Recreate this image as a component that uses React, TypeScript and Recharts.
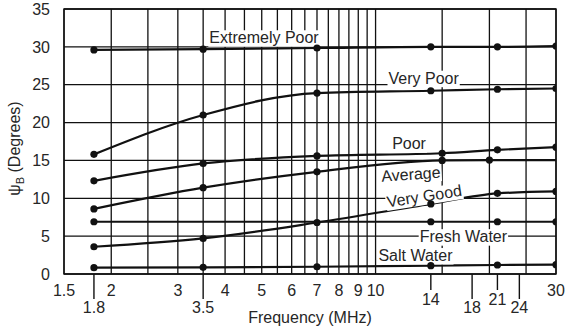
import React from 'react';
import { LineChart, Line, XAxis, YAxis, CartesianGrid, ReferenceArea } from 'recharts';

const FONT = '"Liberation Sans", Arial, Helvetica, sans-serif';
const INK = '#111';
const TEXT = '#262626';

// Brewster angle (degrees) against frequency (MHz) for each ground type
const EXTREMELY_POOR_F = [1.8, 3.5, 7, 14, 21, 30];
const EXTREMELY_POOR_DEG = [29.6, 29.7, 29.85, 30.0, 30.0, 30.1];
const VERY_POOR_F = [1.8, 3.5, 7, 14, 21, 30];
const VERY_POOR_DEG = [15.8, 21.0, 23.9, 24.2, 24.4, 24.5];
const POOR_F = [1.8, 3.5, 7, 15, 21, 30];
const POOR_DEG = [12.3, 14.6, 15.6, 15.95, 16.4, 16.75];
const AVERAGE_F = [1.8, 3.5, 7, 15, 20, 30];
const AVERAGE_DEG = [8.6, 11.4, 13.5, 15.0, 15.05, 15.05];
const VERY_GOOD_F = [1.8, 3.5, 7, 14, 21, 30];
const VERY_GOOD_DEG = [3.6, 4.7, 6.8, 9.25, 10.65, 10.9];
const FRESH_WATER_F = [1.8, 14, 21, 30];
const FRESH_WATER_DEG = [6.9, 6.9, 6.9, 6.9];
const SALT_WATER_F = [1.8, 3.5, 7, 14, 21, 30];
const SALT_WATER_DEG = [0.83, 0.88, 0.96, 1.1, 1.19, 1.23];

// Axis ticks
const GRID_F = [1.5, 2, 2.5, 3, 3.5, 4, 4.5, 5, 5.5, 6, 6.5, 7, 7.5, 8, 8.5, 9, 9.5, 10, 15, 20, 25, 30];
const LABELED_F = [1.5, 2, 3, 4, 5, 6, 7, 8, 9, 10, 30];
const BAND_F = [1.8, 3.5, 14, 18, 21, 24];
const LOW_BAND_F = [1.8, 3.5, 18, 24];
const DEG_TICKS = [0, 5, 10, 15, 20, 25, 30, 35];

const rows = (f: number[], deg: number[]) => f.map((v, i) => ({ f: v, deg: deg[i] }));

const SERIES = [
  { key: 'extremelyPoor', data: rows(EXTREMELY_POOR_F, EXTREMELY_POOR_DEG), marked: 6 },
  { key: 'veryPoor', data: rows(VERY_POOR_F, VERY_POOR_DEG), marked: 6 },
  { key: 'poor', data: rows(POOR_F, POOR_DEG), marked: 6 },
  { key: 'average', data: rows(AVERAGE_F, AVERAGE_DEG), marked: 5 },
  { key: 'veryGood', data: rows(VERY_GOOD_F, VERY_GOOD_DEG), marked: 6 },
  { key: 'freshWater', data: rows(FRESH_WATER_F, FRESH_WATER_DEG), marked: 4 },
  { key: 'saltWater', data: rows(SALT_WATER_F, SALT_WATER_DEG), marked: 6 },
];

// Curve captions, anchored in chart units (MHz, degrees)
const CAPTIONS = [
  { text: 'Extremely Poor', f: 5.07, deg: 31.2, angle: 0 },
  { text: 'Very Poor', f: 13.4, deg: 25.86, angle: 0 },
  { text: 'Poor', f: 12.26, deg: 17.2, angle: 0 },
  { text: 'Average', f: 12.4, deg: 13.2, angle: -4 },
  { text: 'Very Good', f: 13.45, deg: 10.3, angle: -9 },
  { text: 'Fresh Water', f: 17.07, deg: 4.93, angle: 0 },
  { text: 'Salt Water', f: 12.75, deg: 2.44, angle: 0 },
];

const measure = (text: string, size: number) => {
  try {
    const c = document.createElement('canvas').getContext('2d');
    if (c) {
      c.font = `${size}px "Liberation Sans", Arial, sans-serif`;
      return c.measureText(text).width;
    }
  } catch (e) {
    /* fall through */
  }
  return text.length * size * 0.5;
};

// Caption drawn on a white patch so the grid stops around the words
const captionDot = (p: any) => {
  const { cx, cy, index, payload } = p;
  if (cx == null || cy == null || !payload) return <g key={`c${index}`} />;
  const w = measure(payload.text, 16);
  return (
    <g key={`c${index}`} transform={`rotate(${payload.angle}, ${cx}, ${cy})`}>
      <rect x={cx - w / 2 - 1} y={cy - 7.5} width={w + 2} height={16.5} fill="#fff" />
      <text x={cx} y={cy} dy="0.355em" textAnchor="middle" fontSize={16} fontFamily={FONT} fill={TEXT}>
        {payload.text}
      </text>
    </g>
  );
};

const makeDot = (marked: number) => (p: any) => {
  const { cx, cy, index } = p;
  if (index >= marked || cx == null || cy == null) return <g key={`d${index}`} />;
  return <circle key={`d${index}`} cx={cx} cy={cy} r={3.6} fill={INK} />;
};

const GridTick = (props: any) => {
  const { x, y, payload } = props;
  if (!LABELED_F.includes(payload.value)) return <g />;
  return (
    <text x={x} y={y + 16.5} dy="0.355em" textAnchor="middle" fontSize={16} fontFamily={FONT} fill={TEXT}>
      {payload.value}
    </text>
  );
};

const BandTick = (props: any) => {
  const { x, payload } = props;
  const y = props.y - 1;
  const low = LOW_BAND_F.includes(payload.value);
  const len = low ? 25 : 16;
  const ty = low ? 33.5 : 25;
  return (
    <g>
      <line x1={x} y1={y} x2={x} y2={y + len} stroke={INK} strokeWidth={1.4} />
      <text x={x} y={y + ty} dy="0.355em" textAnchor="middle" fontSize={16} fontFamily={FONT} fill={TEXT}>
        {payload.value}
      </text>
    </g>
  );
};

const YTitle = (props: any) => {
  const { viewBox } = props;
  const cy = viewBox ? viewBox.y + viewBox.height / 2 + 7 : 148;
  const x = 19.5;
  return (
    <text
      x={x}
      y={cy}
      transform={`rotate(-90, ${x}, ${cy})`}
      textAnchor="middle"
      fontSize={16}
      fontFamily={FONT}
      fill={TEXT}
    >
      ψ
      <tspan fontSize={11} dy={4}>B</tspan>
      <tspan dy={-4}> (Degrees)</tspan>
    </text>
  );
};

export default function App() {
  return (
    <div style={{ position: 'absolute', left: 0, top: 0, width: 565, height: 333, background: '#fff' }}>
      <LineChart width={565} height={333} margin={{ top: 9, right: 9, bottom: 57, left: 63 }}>
        <CartesianGrid stroke={INK} strokeWidth={1.3} />
        <XAxis
          dataKey="f"
          type="number"
          scale="log"
          domain={[1.5, 30]}
          allowDataOverflow
          ticks={GRID_F}
          interval={0}
          height={1}
          tickSize={0}
          tickMargin={0}
          tickLine={false}
          axisLine={false}
          tick={<GridTick />}
          label={{
            value: 'Frequency (MHz)',
            position: 'bottom',
            offset: 37,
            fontSize: 16,
            fontFamily: FONT,
            fill: TEXT,
          }}
        />
        <XAxis
          xAxisId="band"
          dataKey="f"
          type="number"
          scale="log"
          domain={[1.5, 30]}
          allowDataOverflow
          ticks={BAND_F}
          interval={0}
          height={1}
          tickSize={0}
          tickMargin={0}
          tickLine={false}
          axisLine={false}
          tick={<BandTick />}
        />
        <YAxis
          type="number"
          domain={[0, 35]}
          ticks={DEG_TICKS}
          interval={0}
          width={1}
          tickSize={0}
          tickMargin={14}
          tickLine={false}
          axisLine={false}
          tick={{ fontSize: 16, fontFamily: FONT, fill: TEXT }}
          label={<YTitle />}
        />
        <ReferenceArea x1={1.5} x2={30} y1={0} y2={35} fill="none" stroke={INK} strokeWidth={1.4} fillOpacity={0} />
        <Line
          key="captions"
          data={CAPTIONS}
          dataKey="deg"
          stroke="none"
          dot={captionDot}
          activeDot={false}
          legendType="none"
          isAnimationActive={false}
        />
        {SERIES.map((s) => (
          <Line
            key={s.key}
            data={s.data}
            dataKey="deg"
            type="monotone"
            stroke={INK}
            strokeWidth={2.2}
            dot={makeDot(s.marked)}
            activeDot={false}
            isAnimationActive={false}
          />
        ))}
      </LineChart>
    </div>
  );
}
